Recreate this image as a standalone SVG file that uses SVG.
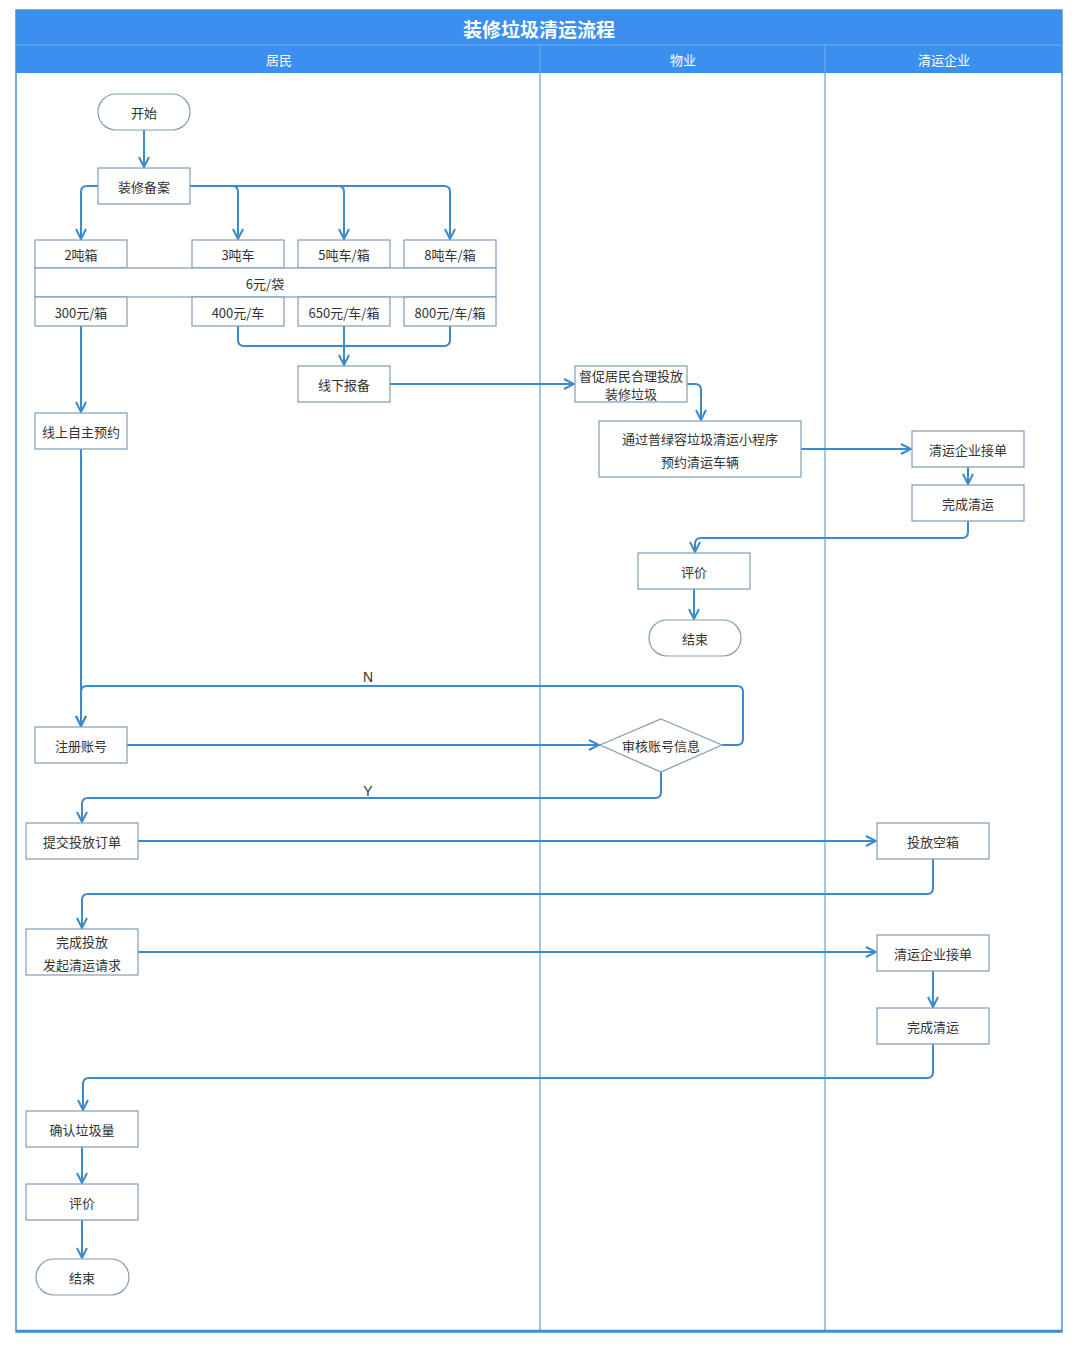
<svg xmlns="http://www.w3.org/2000/svg" width="1080" height="1354" viewBox="0 0 1080 1354">
<style>
.t{font-family:"Noto Sans CJK SC","Noto Sans",sans-serif;font-size:13px;fill:#333;text-anchor:middle;dominant-baseline:central}
.h{font-family:"Noto Sans CJK SC",sans-serif;font-size:13px;fill:#fff;text-anchor:middle;dominant-baseline:central}
.n{fill:#fff;stroke:#7f9db6;stroke-width:1.2}
.c{fill:none;stroke:#3d8acb;stroke-width:2}
.lbl{font-family:"Liberation Sans",sans-serif;font-size:14px;fill:#333;text-anchor:middle}
</style>
<defs>
<marker id="a" viewBox="0 0 12 12" refX="11" refY="6" markerWidth="12" markerHeight="12" markerUnits="userSpaceOnUse" orient="auto">
<path d="M1,1 L11,6 L1,11" fill="none" stroke="#3d8acb" stroke-width="2"/>
</marker>
</defs>
<rect width="1080" height="1354" fill="#fff"/>
<!-- frame and lanes -->
<rect x="16" y="10" width="1046" height="63" fill="#3b8fef"/>
<line x1="16" y1="45" x2="1062" y2="45" stroke="#6fb0f5" stroke-width="1"/>
<line x1="540" y1="45" x2="540" y2="73" stroke="#6fb0f5" stroke-width="1"/>
<line x1="825" y1="45" x2="825" y2="73" stroke="#6fb0f5" stroke-width="1"/>
<rect x="16" y="10" width="1046" height="1322" fill="none" stroke="#4a93d6" stroke-width="1.5"/>
<line x1="16" y1="1331" x2="1062" y2="1331" stroke="#4a8cc8" stroke-width="2.5"/>
<line x1="540" y1="73" x2="540" y2="1331" stroke="#4a8cc0" stroke-width="1"/>
<line x1="825" y1="73" x2="825" y2="1331" stroke="#4a8cc0" stroke-width="1"/>
<text x="539" y="28" class="h" style="font-size:19px;font-weight:bold">装修垃圾清运流程</text>
<text x="279" y="59" class="h">居民</text>
<text x="683" y="59" class="h">物业</text>
<text x="944" y="59" class="h">清运企业</text>

<g id="connectors">
<path class="c" d="M144,130 V167" marker-end="url(#a)"/>
<path class="c" d="M98,186 H87 Q81,186 81,192 V239" marker-end="url(#a)"/>
<path class="c" d="M190,186 H232 Q238,186 238,192 V239" marker-end="url(#a)"/>
<path class="c" d="M190,186 H338 Q344,186 344,192 V239" marker-end="url(#a)"/>
<path class="c" d="M190,186 H444 Q450,186 450,192 V239" marker-end="url(#a)"/>
<path class="c" d="M81,326 V412" marker-end="url(#a)"/>
<path class="c" d="M238,326 V340 Q238,346 244,346 H444 Q450,346 450,340 V326"/>
<path class="c" d="M344,326 V365" marker-end="url(#a)"/>
<path class="c" d="M390,384 H574" marker-end="url(#a)"/>
<path class="c" d="M687,384 H695 Q701,384 701,390 V420" marker-end="url(#a)"/>
<path class="c" d="M801,449 H911" marker-end="url(#a)"/>
<path class="c" d="M968,467 V484" marker-end="url(#a)"/>
<path class="c" d="M968,521 V532 Q968,538 962,538 H701 Q695,538 695,544 V552" marker-end="url(#a)"/>
<path class="c" d="M694,589 V619" marker-end="url(#a)"/>
<path class="c" d="M81,449 V726" marker-end="url(#a)"/>
<path class="c" d="M722,745 H737 Q743,745 743,739 V692 Q743,686 737,686 H87 Q81,686 81,692 V726" marker-end="url(#a)"/>
<path class="c" d="M127,745 H599" marker-end="url(#a)"/>
<path class="c" d="M661,772 V792 Q661,798 655,798 H88 Q82,798 82,804 V822" marker-end="url(#a)"/>
<path class="c" d="M138,841 H876" marker-end="url(#a)"/>
<path class="c" d="M933,859 V888 Q933,894 927,894 H88 Q82,894 82,900 V928" marker-end="url(#a)"/>
<path class="c" d="M138,952 H876" marker-end="url(#a)"/>
<path class="c" d="M933,971 V1007" marker-end="url(#a)"/>
<path class="c" d="M933,1044 V1072 Q933,1078 927,1078 H89 Q83,1078 83,1084 V1110" marker-end="url(#a)"/>
<path class="c" d="M82,1147 V1183" marker-end="url(#a)"/>
<path class="c" d="M82,1220 V1258" marker-end="url(#a)"/>
<text x="368" y="682" class="lbl">N</text>
<text x="368" y="796" class="lbl">Y</text>
</g>

<g id="start"><rect class="n" x="98" y="94" width="92" height="36" rx="18"/><text x="144" y="112" class="t">开始</text></g>
<g id="record"><rect class="n" x="98" y="168" width="92" height="36"/><text x="144" y="186" class="t">装修备案</text></g>
<g id="box2t"><rect class="n" x="35" y="240" width="92" height="28"/><text x="81" y="254" class="t">2吨箱</text></g>
<g id="car3t"><rect class="n" x="192" y="240" width="92" height="28"/><text x="238" y="254" class="t">3吨车</text></g>
<g id="car5t"><rect class="n" x="298" y="240" width="92" height="28"/><text x="344" y="254" class="t">5吨车/箱</text></g>
<g id="car8t"><rect class="n" x="404" y="240" width="92" height="28"/><text x="450" y="254" class="t">8吨车/箱</text></g>
<g id="bag"><rect class="n" x="35" y="268" width="461" height="29"/><text x="265" y="283" class="t">6元/袋</text></g>
<g id="p300"><rect class="n" x="35" y="297" width="92" height="29"/><text x="81" y="312" class="t">300元/箱</text></g>
<g id="p400"><rect class="n" x="192" y="297" width="92" height="29"/><text x="238" y="312" class="t">400元/车</text></g>
<g id="p650"><rect class="n" x="298" y="297" width="92" height="29"/><text x="344" y="312" class="t">650元/车/箱</text></g>
<g id="p800"><rect class="n" x="404" y="297" width="92" height="29"/><text x="450" y="312" class="t">800元/车/箱</text></g>
<g id="offline"><rect class="n" x="298" y="366" width="92" height="36"/><text x="344" y="384" class="t">线下报备</text></g>
<g id="online"><rect class="n" x="35" y="413" width="92" height="36"/><text x="81" y="431" class="t">线上自主预约</text></g>
<g id="urge"><rect class="n" x="575" y="366" width="112" height="36"/><text x="631" y="375" class="t">督促居民合理投放</text><text x="631" y="393" class="t">装修垃圾</text></g>
<g id="miniapp"><rect class="n" x="599" y="421" width="202" height="56"/><text x="700" y="438" class="t">通过普绿容垃圾清运小程序</text><text x="700" y="461" class="t">预约清运车辆</text></g>
<g id="accept1"><rect class="n" x="912" y="431" width="112" height="36"/><text x="968" y="449" class="t">清运企业接单</text></g>
<g id="done1"><rect class="n" x="912" y="485" width="112" height="36"/><text x="968" y="503" class="t">完成清运</text></g>
<g id="rate1"><rect class="n" x="638" y="553" width="112" height="36"/><text x="694" y="571" class="t">评价</text></g>
<g id="end1"><rect class="n" x="649" y="620" width="92" height="36" rx="18"/><text x="695" y="638" class="t">结束</text></g>
<g id="register"><rect class="n" x="35" y="727" width="92" height="36"/><text x="81" y="745" class="t">注册账号</text></g>
<g id="review"><polygon class="n" points="661,719 722,745 661,772 600,745"/><text x="661" y="745" class="t">审核账号信息</text></g>
<g id="order"><rect class="n" x="26" y="823" width="112" height="36"/><text x="82" y="841" class="t">提交投放订单</text></g>
<g id="emptybox"><rect class="n" x="877" y="823" width="112" height="36"/><text x="933" y="841" class="t">投放空箱</text></g>
<g id="request"><rect class="n" x="26" y="929" width="112" height="46"/><text x="82" y="941" class="t">完成投放</text><text x="82" y="964" class="t">发起清运请求</text></g>
<g id="accept2"><rect class="n" x="877" y="935" width="112" height="36"/><text x="933" y="953" class="t">清运企业接单</text></g>
<g id="done2"><rect class="n" x="877" y="1008" width="112" height="36"/><text x="933" y="1026" class="t">完成清运</text></g>
<g id="confirm"><rect class="n" x="26" y="1111" width="112" height="36"/><text x="82" y="1129" class="t">确认垃圾量</text></g>
<g id="rate2"><rect class="n" x="26" y="1184" width="112" height="36"/><text x="82" y="1202" class="t">评价</text></g>
<g id="end2"><rect class="n" x="36" y="1259" width="93" height="36" rx="18"/><text x="82" y="1277" class="t">结束</text></g>
</svg>
